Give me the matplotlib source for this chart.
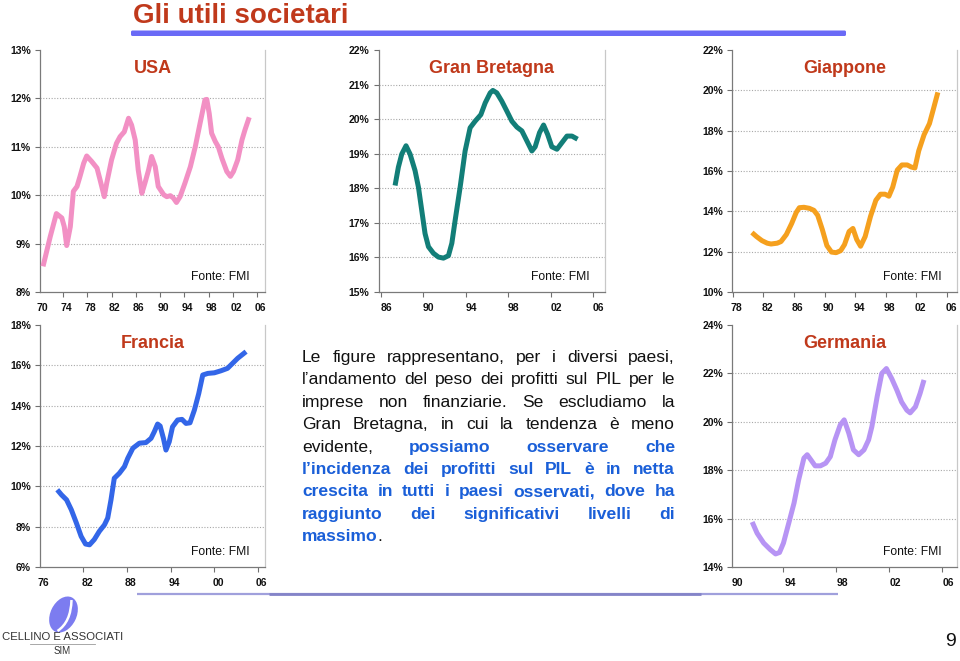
import matplotlib
matplotlib.use("Agg")
import matplotlib.pyplot as plt
from matplotlib.patches import Ellipse, FancyBboxPatch
from matplotlib.path import Path
from matplotlib.patches import PathPatch

plt.rcParams['font.family'] = ['Liberation Sans', 'DejaVu Sans']

# ---------------- data ----------------
title_text = "Gli utili societari"
source_text = "Fonte: FMI"

usa_title = "USA"
usa_years = [1970.2, 1971.4, 1972.4, 1973.3, 1973.7, 1974.1, 1974.7, 1975.2, 1975.8, 1976.3,
             1976.9, 1977.4, 1978.2, 1979.1, 1979.6, 1980.3, 1980.7, 1981.5, 1982.3, 1982.9,
             1983.6, 1984.3, 1984.8, 1985.4, 1985.9, 1986.5, 1987.0, 1987.6, 1988.1, 1988.7,
             1989.2, 1990.1, 1990.6, 1991.2, 1991.7, 1992.2, 1992.8, 1993.6, 1994.5, 1995.3,
             1996.1, 1996.9, 1997.2, 1997.6, 1998.0, 1998.6, 1999.1, 1999.7, 2000.5, 2001.1,
             2001.6, 2002.3, 2003.0, 2003.5, 2004.2]
usa_vals = [8.53, 9.15, 9.62, 9.53, 9.35, 8.96, 9.35, 10.08, 10.18, 10.39,
            10.66, 10.81, 10.70, 10.56, 10.32, 9.97, 10.25, 10.73, 11.07, 11.21,
            11.31, 11.59, 11.45, 11.14, 10.52, 10.04, 10.25, 10.52, 10.80, 10.59,
            10.18, 10.01, 9.97, 9.99, 9.94, 9.85, 9.97, 10.25, 10.59, 11.00,
            11.49, 11.97, 11.98, 11.69, 11.28, 11.11, 11.00, 10.76, 10.49, 10.39,
            10.49, 10.73, 11.14, 11.35, 11.61]
usa_yticks = [8, 9, 10, 11, 12, 13]
usa_xticks = [1970, 1974, 1978, 1982, 1986, 1990, 1994, 1998, 2002, 2006]
usa_xlabels = ["70", "74", "78", "82", "86", "90", "94", "98", "02", "06"]

gb_title = "Gran Bretagna"
gb_years = [1986.85, 1987.16, 1987.48, 1987.88, 1988.26, 1988.73, 1989.05, 1989.36, 1989.67, 1989.99,
            1990.46, 1990.93, 1991.40, 1991.87, 1992.19, 1992.50, 1992.97, 1993.44, 1993.91, 1994.38,
            1994.92, 1995.33, 1995.80, 1996.05, 1996.42, 1996.89, 1997.37, 1997.84, 1998.31, 1998.78,
            1999.25, 1999.72, 2000.03, 2000.44, 2000.82, 2001.20, 2001.60, 2002.08, 2002.55, 2003.02,
            2003.49, 2004.02]
gb_vals = [18.08, 18.61, 18.99, 19.23, 18.99, 18.51, 18.03, 17.36, 16.69, 16.31,
           16.12, 16.01, 15.98, 16.05, 16.41, 17.07, 18.03, 19.08, 19.75, 19.94,
           20.13, 20.47, 20.76, 20.83, 20.76, 20.52, 20.23, 19.94, 19.77, 19.66,
           19.37, 19.08, 19.20, 19.61, 19.83, 19.56, 19.20, 19.13, 19.32, 19.51,
           19.51, 19.42]
gb_yticks = [15, 16, 17, 18, 19, 20, 21, 22]
gb_xticks = [1986, 1990, 1994, 1998, 2002, 2006]
gb_xlabels = ["86", "90", "94", "98", "02", "06"]

jp_title = "Giappone"
jp_years = [1980.0, 1980.6, 1981.3, 1982.0, 1982.5, 1983.3, 1983.8, 1984.5, 1985.2, 1985.8,
            1986.2, 1986.8, 1987.5, 1988.1, 1988.6, 1989.2, 1989.8, 1990.4, 1991.0, 1991.6,
            1992.1, 1992.7, 1993.2, 1993.7, 1994.2, 1994.8, 1995.5, 1996.2, 1996.8, 1997.4,
            1997.9, 1998.4, 1999.0, 1999.6, 2000.3, 2000.8, 2001.3, 2001.8, 2002.5, 2003.2,
            2003.7, 2004.3]
jp_vals = [12.95, 12.75, 12.55, 12.42, 12.38, 12.42, 12.50, 12.85, 13.40, 13.95,
           14.18, 14.20, 14.15, 14.05, 13.80, 13.10, 12.30, 11.98, 11.95, 12.05,
           12.35, 13.00, 13.15, 12.60, 12.27, 12.75, 13.75, 14.55, 14.85, 14.85,
           14.75, 15.20, 16.05, 16.30, 16.30, 16.20, 16.15, 17.00, 17.80, 18.35,
           19.05, 19.90]
jp_yticks = [10, 12, 14, 16, 18, 20, 22]
jp_xticks = [1978, 1982, 1986, 1990, 1994, 1998, 2002, 2006]
jp_xlabels = ["78", "82", "86", "90", "94", "98", "02", "06"]

fr_title = "Francia"
fr_years = [1977.92, 1978.5, 1979.2, 1979.85, 1980.55, 1981.2, 1981.8, 1982.35, 1983.0, 1983.7,
            1984.4, 1984.85, 1985.3, 1985.75, 1986.45, 1987.15, 1987.6, 1988.3, 1989.2, 1990.1,
            1990.8, 1991.25, 1991.7, 1992.05, 1992.5, 1992.85, 1993.3, 1993.75, 1994.45, 1995.05,
            1995.6, 1996.15, 1996.75, 1997.35, 1997.9, 1998.6, 1999.5, 2000.4, 2001.3, 2002.0,
            2002.7, 2003.85]
fr_vals = [9.83, 9.58, 9.33, 8.84, 8.18, 7.52, 7.14, 7.10, 7.36, 7.77,
           8.09, 8.43, 9.33, 10.40, 10.65, 10.98, 11.39, 11.89, 12.14, 12.17,
           12.38, 12.71, 13.09, 12.99, 12.38, 11.80, 12.21, 12.95, 13.29, 13.32,
           13.12, 13.15, 13.78, 14.60, 15.52, 15.60, 15.63, 15.73, 15.85, 16.10,
           16.35, 16.68]
fr_yticks = [6, 8, 10, 12, 14, 16, 18]
fr_xticks = [1976, 1982, 1988, 1994, 2000, 2006]
fr_xlabels = ["76", "82", "88", "94", "00", "06"]

de_title = "Germania"
de_years = [1991.13, 1991.5, 1992.0, 1992.5, 1992.9, 1993.2, 1993.5, 1993.9, 1994.3, 1994.65,
            1995.05, 1995.3, 1995.55, 1995.9, 1996.3, 1996.7, 1997.05, 1997.4, 1997.8, 1998.1,
            1998.45, 1998.8, 1999.2, 1999.6, 1999.95, 2000.2, 2000.6, 2000.95, 2001.3, 2001.7,
            2002.1, 2002.45, 2002.85, 2003.1, 2003.5, 2003.85, 2004.15]
de_vals = [15.86, 15.40, 14.99, 14.72, 14.54, 14.60, 14.99, 15.81, 16.64, 17.60,
           18.50, 18.64, 18.45, 18.18, 18.18, 18.29, 18.56, 19.25, 19.87, 20.08,
           19.53, 18.84, 18.64, 18.84, 19.25, 19.80, 21.04, 22.00, 22.20, 21.79,
           21.30, 20.82, 20.48, 20.37, 20.62, 21.17, 21.73]
de_yticks = [14, 16, 18, 20, 22, 24]
de_xticks = [1990, 1994, 1998, 2002, 2006]
de_xlabels = ["90", "94", "98", "02", "06"]

body_lines = [
    [[("Le", "k")], [("figure", "k")], [("rappresentano,", "k")], [("per", "k")], [("i", "k")],
     [("diversi", "k")], [("paesi,", "k")]],
    [[("l\u2019andamento", "k")], [("del", "k")], [("peso", "k")], [("dei", "k")], [("profitti", "k")],
     [("sul", "k")], [("PIL", "k")], [("per", "k")], [("le", "k")]],
    [[("imprese", "k")], [("non", "k")], [("finanziarie.", "k")], [("Se", "k")], [("escludiamo", "k")],
     [("la", "k")]],
    [[("Gran", "k")], [("Bretagna,", "k")], [("in", "k")], [("cui", "k")], [("la", "k")],
     [("tendenza", "k")], [("\u00e8", "k")], [("meno", "k")]],
    [[("evidente,", "k")], [("possiamo", "b")], [("osservare", "b")], [("che", "b")]],
    [[("l\u2019incidenza", "b")], [("dei", "b")], [("profitti", "b")], [("sul", "b")], [("PIL", "b")],
     [("\u00e8", "b")], [("in", "b")], [("netta", "b")]],
    [[("crescita", "b")], [("in", "b")], [("tutti", "b")], [("i", "b")], [("paesi", "b")],
     [("osservati,", "b")], [("dove", "b")], [("ha", "b")]],
    [[("raggiunto", "b")], [("dei", "b")], [("significativi", "b")], [("livelli", "b")], [("di", "b")]],
    [[("massimo", "b"), (".", "k")]],
]

logo_name = "CELLINO E ASSOCIATI"
logo_sub = "SIM"
page_number = "9"

# ---------------- styles ----------------
W, H = 960, 661
fig = plt.figure(figsize=(W / 100, H / 100), dpi=100)
fig.patch.set_facecolor("white")

TITLE_RED = "#C0391B"
BLUE_TXT = "#1A5FD8"


def px_axes(left, top, right, bottom):
    return fig.add_axes([left / W, 1 - bottom / H, (right - left) / W, (bottom - top) / H])


def make_panel(box, xlim, years, vals, color, yticks, xticks, xlabels, title):
    ax = px_axes(*box)
    ax.plot(years, vals, color=color, lw=3.6, solid_capstyle="butt",
            solid_joinstyle="round", zorder=3)
    ax.set_xlim(*xlim)
    ax.set_ylim(yticks[0], yticks[-1])
    ax.set_yticks(yticks)
    ax.set_yticklabels([f"{v}%" for v in yticks])
    for v in yticks[1:-1]:
        ax.axhline(v, color="#A8A8A8", lw=0.8, ls=(0, (1, 1.5)), zorder=1)
    ax.set_xticks(xticks)
    ax.set_xticklabels(xlabels)
    ax.set_xticks([t - 0.5 for t in xticks if t - 0.5 >= xlim[0]], minor=True)
    ax.tick_params(axis="x", which="major", length=0, pad=8)
    ax.tick_params(axis="x", which="minor", length=3.5, width=0.8, color="#707070",
                   direction="out")
    ax.tick_params(axis="y", which="major", length=3.5, width=0.8, color="#707070",
                   direction="out", pad=3)
    for lab in ax.get_xticklabels() + ax.get_yticklabels():
        lab.set_fontweight("bold")
        lab.set_fontsize(7.5)
        lab.set_color("#111111")
    ax.spines["top"].set_visible(False)
    ax.spines["left"].set_color("#7A7A7A")
    ax.spines["bottom"].set_color("#7A7A7A")
    ax.spines["right"].set_color("#C8C8C8")
    for s in ax.spines.values():
        s.set_linewidth(0.9)
    ax.text(0.5, 0.925, title, transform=ax.transAxes, ha="center", va="center",
            fontsize=13, fontweight="bold", color=TITLE_RED)
    ax.text(0.93, 0.063, source_text, transform=ax.transAxes, ha="right", va="center",
            fontsize=8.7, color="#111111")
    return ax


make_panel((40, 50, 265, 292), (1969.7, 2006.8), usa_years, usa_vals, "#F290C4",
           usa_yticks, usa_xticks, usa_xlabels, usa_title)
make_panel((378.6, 50, 605, 292), (1985.3, 2006.6), gb_years, gb_vals, "#127E78",
           gb_yticks, gb_xticks, gb_xlabels, gb_title)
make_panel((732, 50, 957, 292), (1977.4, 2006.8), jp_years, jp_vals, "#F5A01E",
           jp_yticks, jp_xticks, jp_xlabels, jp_title)
make_panel((40, 325, 265, 567), (1975.55, 2006.45), fr_years, fr_vals, "#3366E8",
           fr_yticks, fr_xticks, fr_xlabels, fr_title)
make_panel((732, 325, 957, 567), (1989.6, 2006.65), de_years, de_vals, "#B794F4",
           de_yticks, de_xticks, de_xlabels, de_title)

# ---------------- overlay (pixel coordinates) ----------------
ov = fig.add_axes([0, 0, 1, 1])
ov.set_xlim(0, W)
ov.set_ylim(H, 0)
ov.axis("off")
ov.patch.set_alpha(0)

ov.text(133, 16, title_text, fontsize=20, fontweight="bold", color=TITLE_RED,
        ha="left", va="center")
ov.add_patch(FancyBboxPatch((131, 30.5), 715, 5.5, boxstyle="round,pad=0,rounding_size=1.5",
                            fc="#6A6AF6", ec="none"))

# bottom rule
ov.plot([137, 838], [594, 594], color="#A0A0DC", lw=1.6, solid_capstyle="butt")
ov.plot([269, 701], [594, 594], color="#8484C8", lw=2.0, solid_capstyle="butt")

# justified body text
renderer = fig.canvas.get_renderer()
STY = {
    "k": dict(color="#111111", fontweight="normal"),
    "b": dict(color=BLUE_TXT, fontweight="bold"),
}
X0, X1 = 302, 675
Y0, DY = 362, 22.4
FS = 12.6
for i, words in enumerate(body_lines):
    y = Y0 + i * DY
    items = []
    for w in words:
        parts = [ov.text(0, y, txt, fontsize=FS, ha="left", va="baseline", **STY[st])
                 for txt, st in w]
        items.append(parts)
    widths = [[p.get_window_extent(renderer).width for p in parts] for parts in items]
    total = sum(sum(ws) for ws in widths)
    last = (i == len(body_lines) - 1)
    gap = 4.8 if (last or len(items) < 2) else (X1 - X0 - total) / (len(items) - 1)
    x = X0
    for parts, ws in zip(items, widths):
        for j, (p, wpx) in enumerate(zip(parts, ws)):
            p.set_x(x)
            x += wpx
        x += gap

# logo
ov.add_patch(Ellipse((63.5, 614.5), 38, 26, angle=-64, fc="#7C7CF0", ec="none"))
verts = [(57.5, 631), (71, 622), (71.5, 600)]
ov.add_patch(PathPatch(Path(verts, [Path.MOVETO, Path.CURVE3, Path.CURVE3]),
                       fc="none", ec="white", lw=1.8))
ov.text(62.5, 636.5, logo_name, fontsize=8.2, ha="center", va="center", color="#333333")
ov.plot([30, 95], [643.5, 643.5], color="#9A9A9A", lw=0.6)
ov.text(62.5, 651.5, logo_sub, fontsize=7, ha="center", va="center", color="#333333")

ov.text(950, 641, page_number, fontsize=14, ha="center", va="center", color="#111111")

fig.savefig("out.png", dpi=100)
